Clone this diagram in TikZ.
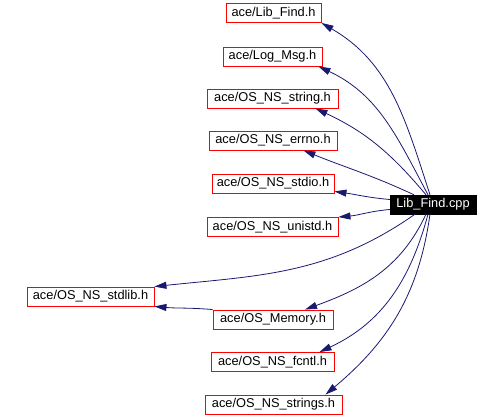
\documentclass[tikz,border=0pt]{standalone}
\usepackage{fontspec}
\setmainfont{Liberation Sans}
\usetikzlibrary{arrows.meta}
\definecolor{edgeblue}{RGB}{25,25,112}
\begin{document}
\begin{tikzpicture}[x=1pt,y=-1pt,
  hdr/.style={draw=red, line width=0.9pt, minimum height=19pt, inner sep=0pt, font=\fontsize{12.8}{14}\selectfont},
  mainbox/.style={draw=black, fill=black, text=white, minimum height=19pt, minimum width=86pt, inner sep=0pt, font=\fontsize{12.8}{14}\selectfont},
  edge/.style={draw=edgeblue, line width=0.8pt, -{Triangle[length=12pt,width=7pt]}}]
\useasboundingbox (0,0) rectangle (500,417);
\node[hdr, minimum width=95pt] (libfind) at (273.5,13) {ace/Lib\_Find.h};
\node[hdr, minimum width=99pt] (logmsg) at (272.5,56.5) {ace/Log\_Msg.h};
\node[hdr, minimum width=131pt] (nsstring) at (272.5,98.5) {ace/OS\_NS\_string.h};
\node[hdr, minimum width=128pt] (nserrno) at (273,140.5) {ace/OS\_NS\_errno.h};
\node[hdr, minimum width=122pt] (nsstdio) at (273,183.5) {ace/OS\_NS\_stdio.h};
\node[hdr, minimum width=131pt] (nsunistd) at (272.5,227) {ace/OS\_NS\_unistd.h};
\node[hdr, minimum width=127pt] (nsstdlib) at (90.5,296.5) {ace/OS\_NS\_stdlib.h};
\node[hdr, minimum width=120pt] (memory) at (273,319.5) {ace/OS\_Memory.h};
\node[hdr, minimum width=123pt] (nsfcntl) at (272.5,362) {ace/OS\_NS\_fcntl.h};
\node[hdr, minimum width=137pt] (nsstrings) at (273.5,404.5) {ace/OS\_NS\_strings.h};
\node[mainbox] (cpp) at (433,204.5) {Lib\_Find.cpp};

\draw[edge] ([xshift=-3pt]cpp.north) to[out=108,in=-30] (libfind.south east);
\draw[edge] ([xshift=-5pt]cpp.north) to[out=118,in=-25] ([xshift=-4pt]logmsg.south east);
\draw[edge] ([xshift=-7pt]cpp.north) to[out=130,in=-25] ([xshift=-23pt]nsstring.south east);
\draw[edge] ([xshift=-19pt]cpp.north) to[out=155,in=-22] ([xshift=-34pt]nserrno.south east);
\draw[edge] ([yshift=5pt]cpp.west) to[out=175,in=-8] ([yshift=2pt]nsstdio.south east);
\draw[edge] ([yshift=-5pt]cpp.west) to[out=185,in=5] (nsunistd.north east);
\draw[edge] ([xshift=-18pt]cpp.south) to[out=215,in=6] (nsstdlib.north east);
\draw[edge] ([xshift=-7pt]cpp.south) to[out=245,in=20] ([xshift=32pt]memory.north);
\draw[edge] ([xshift=-5pt]cpp.south) to[out=255,in=25] ([xshift=47pt]nsfcntl.north);
\draw[edge] ([xshift=-3pt]cpp.south) to[out=262,in=40] ([xshift=52pt]nsstrings.north);
\draw[edge] (memory.north west) to[out=175,in=-5] (nsstdlib.south east);
\end{tikzpicture}
\end{document}
